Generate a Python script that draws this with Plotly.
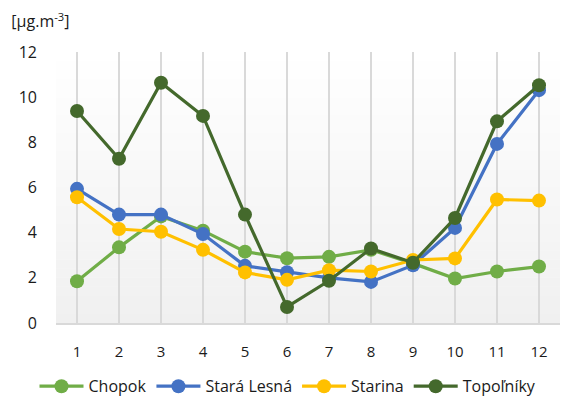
import plotly.graph_objects as go

# months and monthly means per station
months = [str(m) for m in range(1, 13)]

chopok = [1.85, 3.35, 4.72, 4.09, 3.16, 2.87, 2.93, 3.24, 2.64, 1.97, 2.28, 2.5]
stara_lesna = [5.94, 4.8, 4.8, 3.94, 2.53, 2.25, 2.0, 1.82, 2.56, 4.21, 7.93, 10.31]
starina = [5.57, 4.16, 4.04, 3.24, 2.24, 1.91, 2.34, 2.28, 2.79, 2.86, 5.47, 5.42]
topolniky = [9.39, 7.27, 10.64, 9.17, 4.8, 0.71, 1.87, 3.3, 2.67, 4.65, 8.93, 10.53]

series = [
    ("Chopok", chopok, "#70AD47"),
    ("Stará Lesná", stara_lesna, "#4472C4"),
    ("Starina", starina, "#FFC000"),
    ("Topoľníky", topolniky, "#44692C"),
]

FONT = "'Open Sans', 'Noto Sans', sans-serif"
TEXT = "#1a1a1a"

fig = go.Figure()

for name, vals, color in series:
    fig.add_trace(
        go.Scatter(
            x=months,
            y=vals,
            name=name,
            mode="lines+markers",
            line=dict(color=color, width=3.2),
            marker=dict(color=color, size=14),
        )
    )

# light vertical gradient behind the plot area (white at top -> light grey)
n_bands = 30
for i in range(n_bands):
    t = i / (n_bands - 1)
    g = int(round(240 + 15 * t))
    fig.add_shape(
        type="rect",
        xref="x domain", yref="y domain",
        x0=0, x1=1,
        y0=i / n_bands, y1=(i + 1) / n_bands + 0.002,
        fillcolor=f"rgb({g},{g},{g})",
        line=dict(width=0),
        layer="below",
    )

# page body has an 8px margin, so the figure is 8px smaller each way
fig.update_layout(
    width=560,
    height=392,
    margin=dict(l=48, r=8, t=44, b=77, autoexpand=False),
    plot_bgcolor="white",
    paper_bgcolor="white",
    font=dict(family=FONT, color=TEXT, size=16),
    title=dict(
        text="[µg.m<sup>-3</sup>]",
        x=0.006, xanchor="left",
        y=0.965, yanchor="middle",
        font=dict(family=FONT, size=16, color=TEXT),
    ),
    showlegend=True,
    legend=dict(
        orientation="h",
        xref="container",
        x=0.5, xanchor="center",
        yref="container",
        y=0.035, yanchor="middle",
        font=dict(family=FONT, size=16, color=TEXT),
        itemwidth=44,
        tracegroupgap=0,
    ),
)

fig.update_xaxes(
    type="category",
    showgrid=True,
    gridcolor="#d9d9d9",
    gridwidth=2,
    showline=True,
    linecolor="#d9d9d9",
    linewidth=1.5,
    ticks="",
    ticklabelstandoff=14,
    tickfont=dict(family=FONT, size=15, color=TEXT),
    range=[-0.5, 11.5],
    fixedrange=True,
)

fig.update_yaxes(
    range=[0, 12],
    dtick=2,
    showgrid=False,
    zeroline=False,
    showline=False,
    ticks="",
    ticklabelstandoff=18,
    tickfont=dict(family=FONT, size=16, color=TEXT),
    fixedrange=True,
)

fig.write_html("out.html")
